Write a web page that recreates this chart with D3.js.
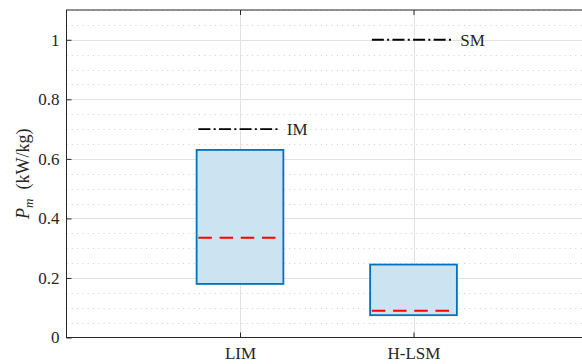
<!DOCTYPE html>
<html><head><meta charset="utf-8">
<script src="https://cdn.jsdelivr.net/npm/d3@7"></script>
<style>
html,body{margin:0;padding:0;background:#fff;overflow:hidden;}
svg{display:block;}
text{font-family:"Liberation Serif","DejaVu Serif",serif;fill:#262626;}
</style></head>
<body>
<svg id="chart" width="582" height="364"></svg>
<script>
// ---- data ----
const categories = ["LIM", "H-LSM"];
const boxLow = [0.18, 0.075];
const boxHigh = [0.63, 0.245];
const medians = [0.335, 0.09];
const refLabels = ["IM", "SM"];
const refValues = [0.7, 1.0];
const yTicks = [0, 0.2, 0.4, 0.6, 0.8, 1];
const yTickLabels = ["0", "0.2", "0.4", "0.6", "0.8", "1"];
const yMinor = d3.range(0, 1.1001, 0.05);

const svg = d3.select("#chart");
const mLeft = 66.5, mTop = 10, mBottom = 337.5, mRight = 587;
const x = d3.scaleLinear().domain([0, 3]).range([mLeft, mRight]);
const y = d3.scaleLinear().domain([0, 1.1]).range([mBottom, mTop]);
const axisColor = "#262626";
const serif = '"Liberation Serif","DejaVu Serif",serif';

// minor dotted grid
svg.append("g").selectAll("line").data(yMinor.filter(v => !yTicks.some(t => Math.abs(t - v) < 1e-6)))
  .join("line")
  .attr("x1", mLeft).attr("x2", mRight)
  .attr("y1", d => Math.round(y(d)) + 0.5).attr("y2", d => Math.round(y(d)) + 0.5)
  .attr("stroke", "#cfcfcf").attr("stroke-width", 1).attr("stroke-dasharray", "1,4.3");

// major grid
svg.append("g").selectAll("line").data(yTicks.slice(1))
  .join("line")
  .attr("x1", mLeft).attr("x2", mRight)
  .attr("y1", d => Math.round(y(d)) + 0.5).attr("y2", d => Math.round(y(d)) + 0.5)
  .attr("stroke", "#e2e2e2").attr("stroke-width", 1);
svg.append("g").selectAll("line").data(categories)
  .join("line")
  .attr("x1", (d, i) => Math.round(x(i + 1)) + 0.5).attr("x2", (d, i) => Math.round(x(i + 1)) + 0.5)
  .attr("y1", mTop).attr("y2", mBottom)
  .attr("stroke", "#e2e2e2").attr("stroke-width", 1);

// boxes
svg.append("g").selectAll("rect").data(categories)
  .join("rect")
  .attr("x", (d, i) => x(i + 1 - 0.25))
  .attr("width", (d, i) => x(i + 1 + 0.25) - x(i + 1 - 0.25))
  .attr("y", (d, i) => y(boxHigh[i]))
  .attr("height", (d, i) => y(boxLow[i]) - y(boxHigh[i]))
  .attr("fill", "#cce3f2").attr("stroke", "#0072BD").attr("stroke-width", 1.8);

// medians
svg.append("g").selectAll("line").data(categories)
  .join("line")
  .attr("x1", (d, i) => x(i + 1 - 0.24)).attr("x2", (d, i) => x(i + 1 + 0.24))
  .attr("y1", (d, i) => y(medians[i])).attr("y2", (d, i) => y(medians[i]))
  .attr("stroke", "#ff0000").attr("stroke-width", 2).attr("stroke-dasharray", "13.5,7.7");

// reference lines
svg.append("g").selectAll("line").data(refLabels)
  .join("line")
  .attr("x1", (d, i) => x(i + 1 - 0.24)).attr("x2", (d, i) => x(i + 1 + 0.235))
  .attr("y1", (d, i) => y(refValues[i])).attr("y2", (d, i) => y(refValues[i]))
  .attr("stroke", "#000").attr("stroke-width", 1.8).attr("stroke-dasharray", "12,3.3,2,3.3");
svg.append("g").selectAll("text").data(refLabels)
  .join("text")
  .attr("x", (d, i) => x(i + 1 + 0.27))
  .attr("y", (d, i) => y(refValues[i]))
  .attr("dy", "0.35em")
  .attr("font-size", 17)
  .text(d => d);

// axes box
svg.append("rect").attr("x", mLeft).attr("y", mTop)
  .attr("width", mRight - mLeft).attr("height", mBottom - mTop)
  .attr("fill", "none").attr("stroke", axisColor).attr("stroke-width", 1);

// y axis ticks and labels
const yAxis = d3.axisLeft(y).tickValues(yTicks).tickFormat((d, i) => yTickLabels[i]).tickSizeInner(-5).tickSizeOuter(0).tickPadding(7);
const gy = svg.append("g").attr("transform", `translate(${mLeft},0)`).call(yAxis);
gy.attr("font-family", null);
gy.select(".domain").remove();
gy.selectAll("line").attr("stroke", axisColor);
gy.selectAll("text").attr("font-size", 17).attr("fill", axisColor).style("font-family", serif);
// right ticks
const gyr = svg.append("g").attr("transform", `translate(${mRight},0)`)
  .call(d3.axisRight(y).tickValues(yTicks).tickSizeInner(-5).tickSizeOuter(0).tickFormat(""));
gyr.select(".domain").remove();
gyr.selectAll("line").attr("stroke", axisColor);

// x axis
const xAxis = d3.axisBottom(x).tickValues([1, 2]).tickFormat((d) => categories[d - 1]).tickSizeInner(-5).tickSizeOuter(0).tickPadding(9);
const gx = svg.append("g").attr("transform", `translate(0,${mBottom})`).call(xAxis);
gx.attr("font-family", null);
gx.select(".domain").remove();
gx.selectAll("line").attr("stroke", axisColor);
gx.selectAll("text").attr("font-size", 17).attr("fill", axisColor).style("font-family", serif);
const gxt = svg.append("g").attr("transform", `translate(0,${mTop})`)
  .call(d3.axisTop(x).tickValues([1, 2]).tickSizeInner(-5).tickSizeOuter(0).tickFormat(""));
gxt.select(".domain").remove();
gxt.selectAll("line").attr("stroke", axisColor);

// y label
const yl = svg.append("text")
  .attr("transform", `translate(29,${(mTop + mBottom) / 2}) rotate(-90)`)
  .attr("text-anchor", "middle")
  .attr("font-size", 18);
yl.append("tspan").attr("font-style", "italic").text("P");
yl.append("tspan").attr("font-style", "italic").attr("font-size", 13).attr("dy", 4).text("m");
yl.append("tspan").attr("dy", -4).text("\u2002(kW/kg)");
</script>
</body></html>
